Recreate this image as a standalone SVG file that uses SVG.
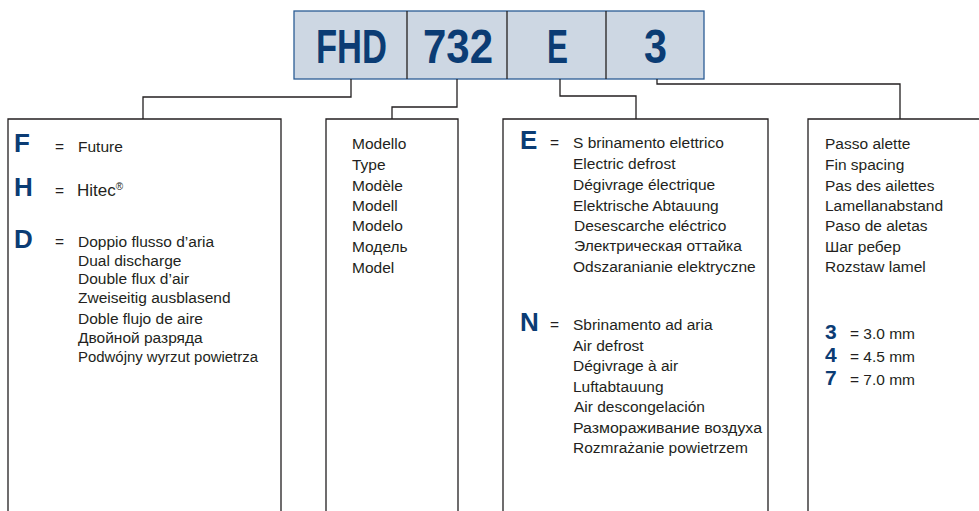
<svg xmlns="http://www.w3.org/2000/svg" width="979" height="511" viewBox="0 0 979 511">
<style>
.t{font-family:"Liberation Sans",Arial,sans-serif;font-size:15.5px;fill:#231f20}
.k{font-family:"Liberation Sans",Arial,sans-serif;font-weight:bold;font-size:26px;fill:#0b3c74}
.n{font-family:"Liberation Sans",Arial,sans-serif;font-weight:bold;font-size:21px;fill:#0b3c74}
.h{font-family:"Liberation Sans",Arial,sans-serif;font-weight:bold;font-size:49px;fill:#0b3c74}
.box{fill:#fff;stroke:#231f20;stroke-width:1.3}
.ln{fill:none;stroke:#231f20;stroke-width:1.3}
</style>
<rect width="979" height="511" fill="#fff"/>
<g id="header">
<rect x="294" y="11" width="410" height="68" fill="#cdd7e3" stroke="#2b5d95" stroke-width="1.3"/>
<line x1="407" y1="11" x2="407" y2="79" class="ln"/>
<line x1="507" y1="11" x2="507" y2="79" class="ln"/>
<line x1="606" y1="11" x2="606" y2="79" class="ln"/>
<text class="h" x="316" y="63" textLength="71" lengthAdjust="spacingAndGlyphs">FHD</text>
<text class="h" x="423" y="63" textLength="70" lengthAdjust="spacingAndGlyphs">732</text>
<text class="h" x="547" y="63" textLength="21" lengthAdjust="spacingAndGlyphs">E</text>
<text class="h" x="644" y="63" textLength="23" lengthAdjust="spacingAndGlyphs">3</text>
</g>
<g id="connectors">
<polyline class="ln" points="351,79 351,97 143,97 143,119"/>
<polyline class="ln" points="457,79 457,107 392,107 392,119"/>
<polyline class="ln" points="560,79 560,96 636,96 636,119"/>
<polyline class="ln" points="657,79 657,84 900,84 900,119"/>
</g>
<g id="box-fhd">
<path class="box" d="M8,515 V119 H281 V515"/>
<text class="k" x="14" y="152">F</text>
<text class="t" x="55" y="152">=</text>
<text class="t" x="78" y="152">Future</text>
<text class="k" x="14" y="196">H</text>
<text class="t" x="55" y="196">=</text>
<text class="t" x="77" y="196" style="font-size:17px">Hitec<tspan style="font-size:10px" dy="-6">®</tspan></text>
<text class="k" x="14" y="248">D</text>
<text class="t" x="55" y="247">=</text>
<text class="t" x="78" y="247">Doppio flusso d’aria</text>
<text class="t" x="78" y="266">Dual discharge</text>
<text class="t" x="78" y="284">Double flux d’air</text>
<text class="t" x="78" y="303">Zweiseitig ausblasend</text>
<text class="t" x="78" y="324">Doble flujo de aire</text>
<text class="t" x="78" y="343">Двойной разряда</text>
<text class="t" x="78" y="362" textLength="180" lengthAdjust="spacingAndGlyphs">Podwójny wyrzut powietrza</text>
</g>
<g id="box-model">
<path class="box" d="M326,515 V119 H458 V515"/>
<text class="t" x="352" y="149">Modello</text>
<text class="t" x="352" y="170">Type</text>
<text class="t" x="352" y="191">Modèle</text>
<text class="t" x="352" y="211">Modell</text>
<text class="t" x="352" y="231">Modelo</text>
<text class="t" x="352" y="252">Модель</text>
<text class="t" x="352" y="273">Model</text>
</g>
<g id="box-defrost">
<path class="box" d="M503,515 V119 H768 V515"/>
<text class="k" x="520" y="149">E</text>
<text class="t" x="550" y="148">=</text>
<text class="t" x="573" y="148">S brinamento elettrico</text>
<text class="t" x="573" y="169">Electric defrost</text>
<text class="t" x="573" y="190">Dégivrage électrique</text>
<text class="t" x="573" y="211">Elektrische Abtauung</text>
<text class="t" x="574" y="231">Desescarche eléctrico</text>
<text class="t" x="574" y="251">Электрическая оттайка</text>
<text class="t" x="573" y="272">Odszaranianie elektryczne</text>
<text class="k" x="520" y="331">N</text>
<text class="t" x="550" y="330">=</text>
<text class="t" x="573" y="330">Sbrinamento ad aria</text>
<text class="t" x="573" y="351">Air defrost</text>
<text class="t" x="573" y="371">Dégivrage à air</text>
<text class="t" x="573" y="392">Luftabtauung</text>
<text class="t" x="574" y="412">Air descongelación</text>
<text class="t" x="573" y="433" textLength="189" lengthAdjust="spacingAndGlyphs">Размораживание воздуха</text>
<text class="t" x="573" y="453">Rozmrażanie powietrzem</text>
</g>
<g id="box-fin">
<path class="box" d="M808,515 V119 H985"/>
<text class="t" x="825" y="149">Passo alette</text>
<text class="t" x="825" y="170">Fin spacing</text>
<text class="t" x="825" y="191">Pas des ailettes</text>
<text class="t" x="825" y="211">Lamellanabstand</text>
<text class="t" x="825" y="231">Paso de aletas</text>
<text class="t" x="825" y="252">Шаг ребер</text>
<text class="t" x="825" y="272">Rozstaw lamel</text>
<text class="n" x="825" y="339">3</text>
<text class="t" x="850" y="339">= 3.0 mm</text>
<text class="n" x="825" y="362">4</text>
<text class="t" x="850" y="362">= 4.5 mm</text>
<text class="n" x="825" y="385">7</text>
<text class="t" x="850" y="385">= 7.0 mm</text>
</g>
</svg>
